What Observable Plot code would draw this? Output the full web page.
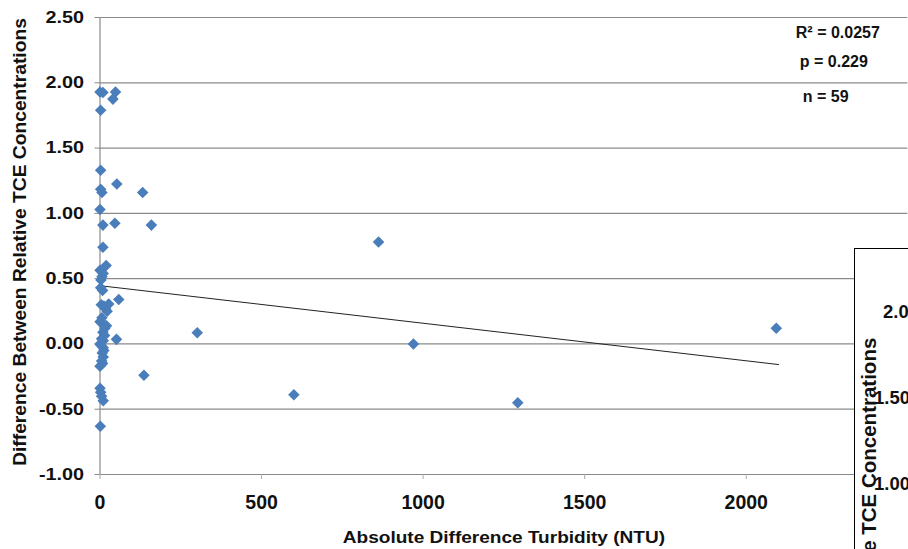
<!DOCTYPE html>
<html>
<head>
<meta charset="utf-8">
<script src="https://cdn.jsdelivr.net/npm/d3@7"></script>
<script src="https://cdn.jsdelivr.net/npm/@observablehq/plot@0.6"></script>
<style>
  html, body { margin: 0; padding: 0; background: #fff; }
  #wrap { position: relative; width: 908px; height: 549px; overflow: hidden; }
  #inset { position: absolute; left: 854px; top: 248px; width: 70px; height: 320px;
           border: 1px solid #000; background: #fff; overflow: hidden;
           font-family: "Liberation Sans", Arial, sans-serif; font-weight: bold; color: #111; }
  #inset .t { position: absolute; font-size: 18.5px; line-height: 1; }
  #inset .lab { position: absolute; transform-origin: 0 0; transform: rotate(-90deg);
                white-space: nowrap; font-size: 20.5px; line-height: 23px; }
</style>
</head>
<body>
<div id="wrap"></div>
<script>
// Data
const turbidity = [2093, 862, 970, 1293, 600, 301, 136, 159, 132, 52, 46,
  0, 9, 48, 40, 2, 2, 2, 6, 0, 9, 9, 19, 0, 10, 6, 3, 2, 8, 58, 12, 27, 17, 22,
  0, 10, 20, 9, 14, 51, 0, 10, 10, 7, 10, 5, 0, 0, 2, 10, 1,
  4, 15, 5, 3, 12, 8, 6, 5];
const tceDiff = [0.12, 0.78, 0.0, -0.45, -0.39, 0.085, -0.24, 0.91, 1.16, 1.225, 0.925,
  1.93, 1.925, 1.93, 1.875, 1.79, 1.33, 1.185, 1.16, 1.03, 0.91, 0.74, 0.6, 0.565, 0.54, 0.515, 0.49, 0.43, 0.41, 0.34, 0.29, 0.305, 0.27, 0.25,
  0.17, 0.155, 0.14, 0.09, 0.065, 0.035, 0.0, 0.025, -0.03, -0.07, -0.1, -0.13, -0.17, -0.34, -0.37, -0.435, -0.63,
  0.3, 0.12, 0.04, -0.01, -0.05, -0.15, 0.2, -0.4];
const trendX = [0, 2100];
const trendY = [0.446, -0.158];
const xTicks = [0, 500, 1000, 1500, 2000];
const yTicks = [-1, -0.5, 0, 0.5, 1, 1.5, 2, 2.5];
const statsText = ["R\u00B2 = 0.0257", "p = 0.229", "n = 59"];
const xLabel = "Absolute Difference Turbidity (NTU)";
const yLabel = "Difference Between Relative TCE Concentrations";
const insetTicks = ["2.00", "1.50", "1.00"];
const insetLabel = "Difference Between Relative TCE Concentrations";

const points = turbidity.map((x, i) => ({x, y: tceDiff[i]}));
const trend = trendX.map((x, i) => ({x, y: trendY[i]}));

const font = "'Liberation Sans', Arial, sans-serif";
const chart = Plot.plot({
  width: 908,
  height: 549,
  marginLeft: 99.5,
  marginRight: 0.7,
  marginTop: 17,
  marginBottom: 75,
  style: { fontFamily: font, fontWeight: "bold", fontSize: "16px", color: "#111", background: "#fff" },
  x: { domain: [0, 2500] },
  y: { domain: [-1, 2.5] },
  marks: [
    Plot.gridY(yTicks, { stroke: "#8a8a8a", strokeOpacity: 1, strokeWidth: 1.2 }),
    Plot.ruleX([0], { stroke: "#8a8a8a", strokeWidth: 1.2 }),
    Plot.axisY(yTicks, { tickSize: 5, stroke: "#8a8a8a", tickPadding: 11, tickFormat: d => d.toFixed(2), label: null, fontSize: 16.5 }),
    Plot.axisX(xTicks, { tickSize: 5, stroke: "#aaa", tickPadding: 16, tickFormat: d => String(d), label: null, fontSize: 19.5 }),
    Plot.line(trend, { x: "x", y: "y", stroke: "#222", strokeWidth: 1 }),
    Plot.dot(points, { x: "x", y: "y", symbol: "diamond2", r: 5.2, fill: "#4a7ebb", stroke: "none" }),
    Plot.text([xLabel], { ariaDescription: "xlabel", frameAnchor: "bottom", lineAnchor: "middle", dy: 63, text: d => d, fontSize: 16 }),
    Plot.text([yLabel], { ariaDescription: "ylabel", frameAnchor: "left", textAnchor: "middle", lineAnchor: "middle", rotate: -90, dx: -80, dy: -4, text: d => d, fontSize: 17.5 }),
    Plot.text([statsText[0]], { frameAnchor: "top-right", textAnchor: "start", dx: -112, dy: 9, text: d => d, fontSize: 16 }),
    Plot.text([statsText[1]], { frameAnchor: "top-right", textAnchor: "start", dx: -108, dy: 38, text: d => d, fontSize: 16 }),
    Plot.text([statsText[2]], { frameAnchor: "top-right", textAnchor: "start", dx: -105, dy: 73, text: d => d, fontSize: 16 })
  ]
});
const wrap = document.getElementById("wrap");
wrap.appendChild(chart);

// Horizontal stretch of the reference's lettering (about each text's own anchor)
function stretch(sel, s) {
  chart.querySelectorAll(sel).forEach(t => {
    const tr = t.getAttribute("transform") || "";
    t.setAttribute("transform", tr + " " + s);
  });
}
stretch('g[aria-label="y-axis tick label"] text', "scale(1.2,1)");
stretch('g[aria-description="xlabel"] text', "scale(1.19,1)");
stretch('g[aria-description="ylabel"] text', "scale(1.1,1)");

// Overlapping neighbouring panel seen at the right edge of the reference
const inset = document.createElement("div");
inset.id = "inset";
const tickTops = [54, 140, 226];
const tickLefts = [28, 19, 19];
insetTicks.forEach((t, i) => {
  const s = document.createElement("span");
  s.className = "t";
  s.textContent = t;
  s.style.left = tickLefts[i] + "px";
  s.style.top = tickTops[i] + "px";
  inset.appendChild(s);
});
const lab = document.createElement("span");
lab.className = "lab";
lab.textContent = insetLabel;
lab.style.left = "2px";
inset.appendChild(lab);
wrap.appendChild(inset);
// place the rotated label so that its end sits where the reference shows it
const labLen = lab.getBoundingClientRect().height;
lab.style.top = (89 + labLen) + "px";
</script>
</body>
</html>
